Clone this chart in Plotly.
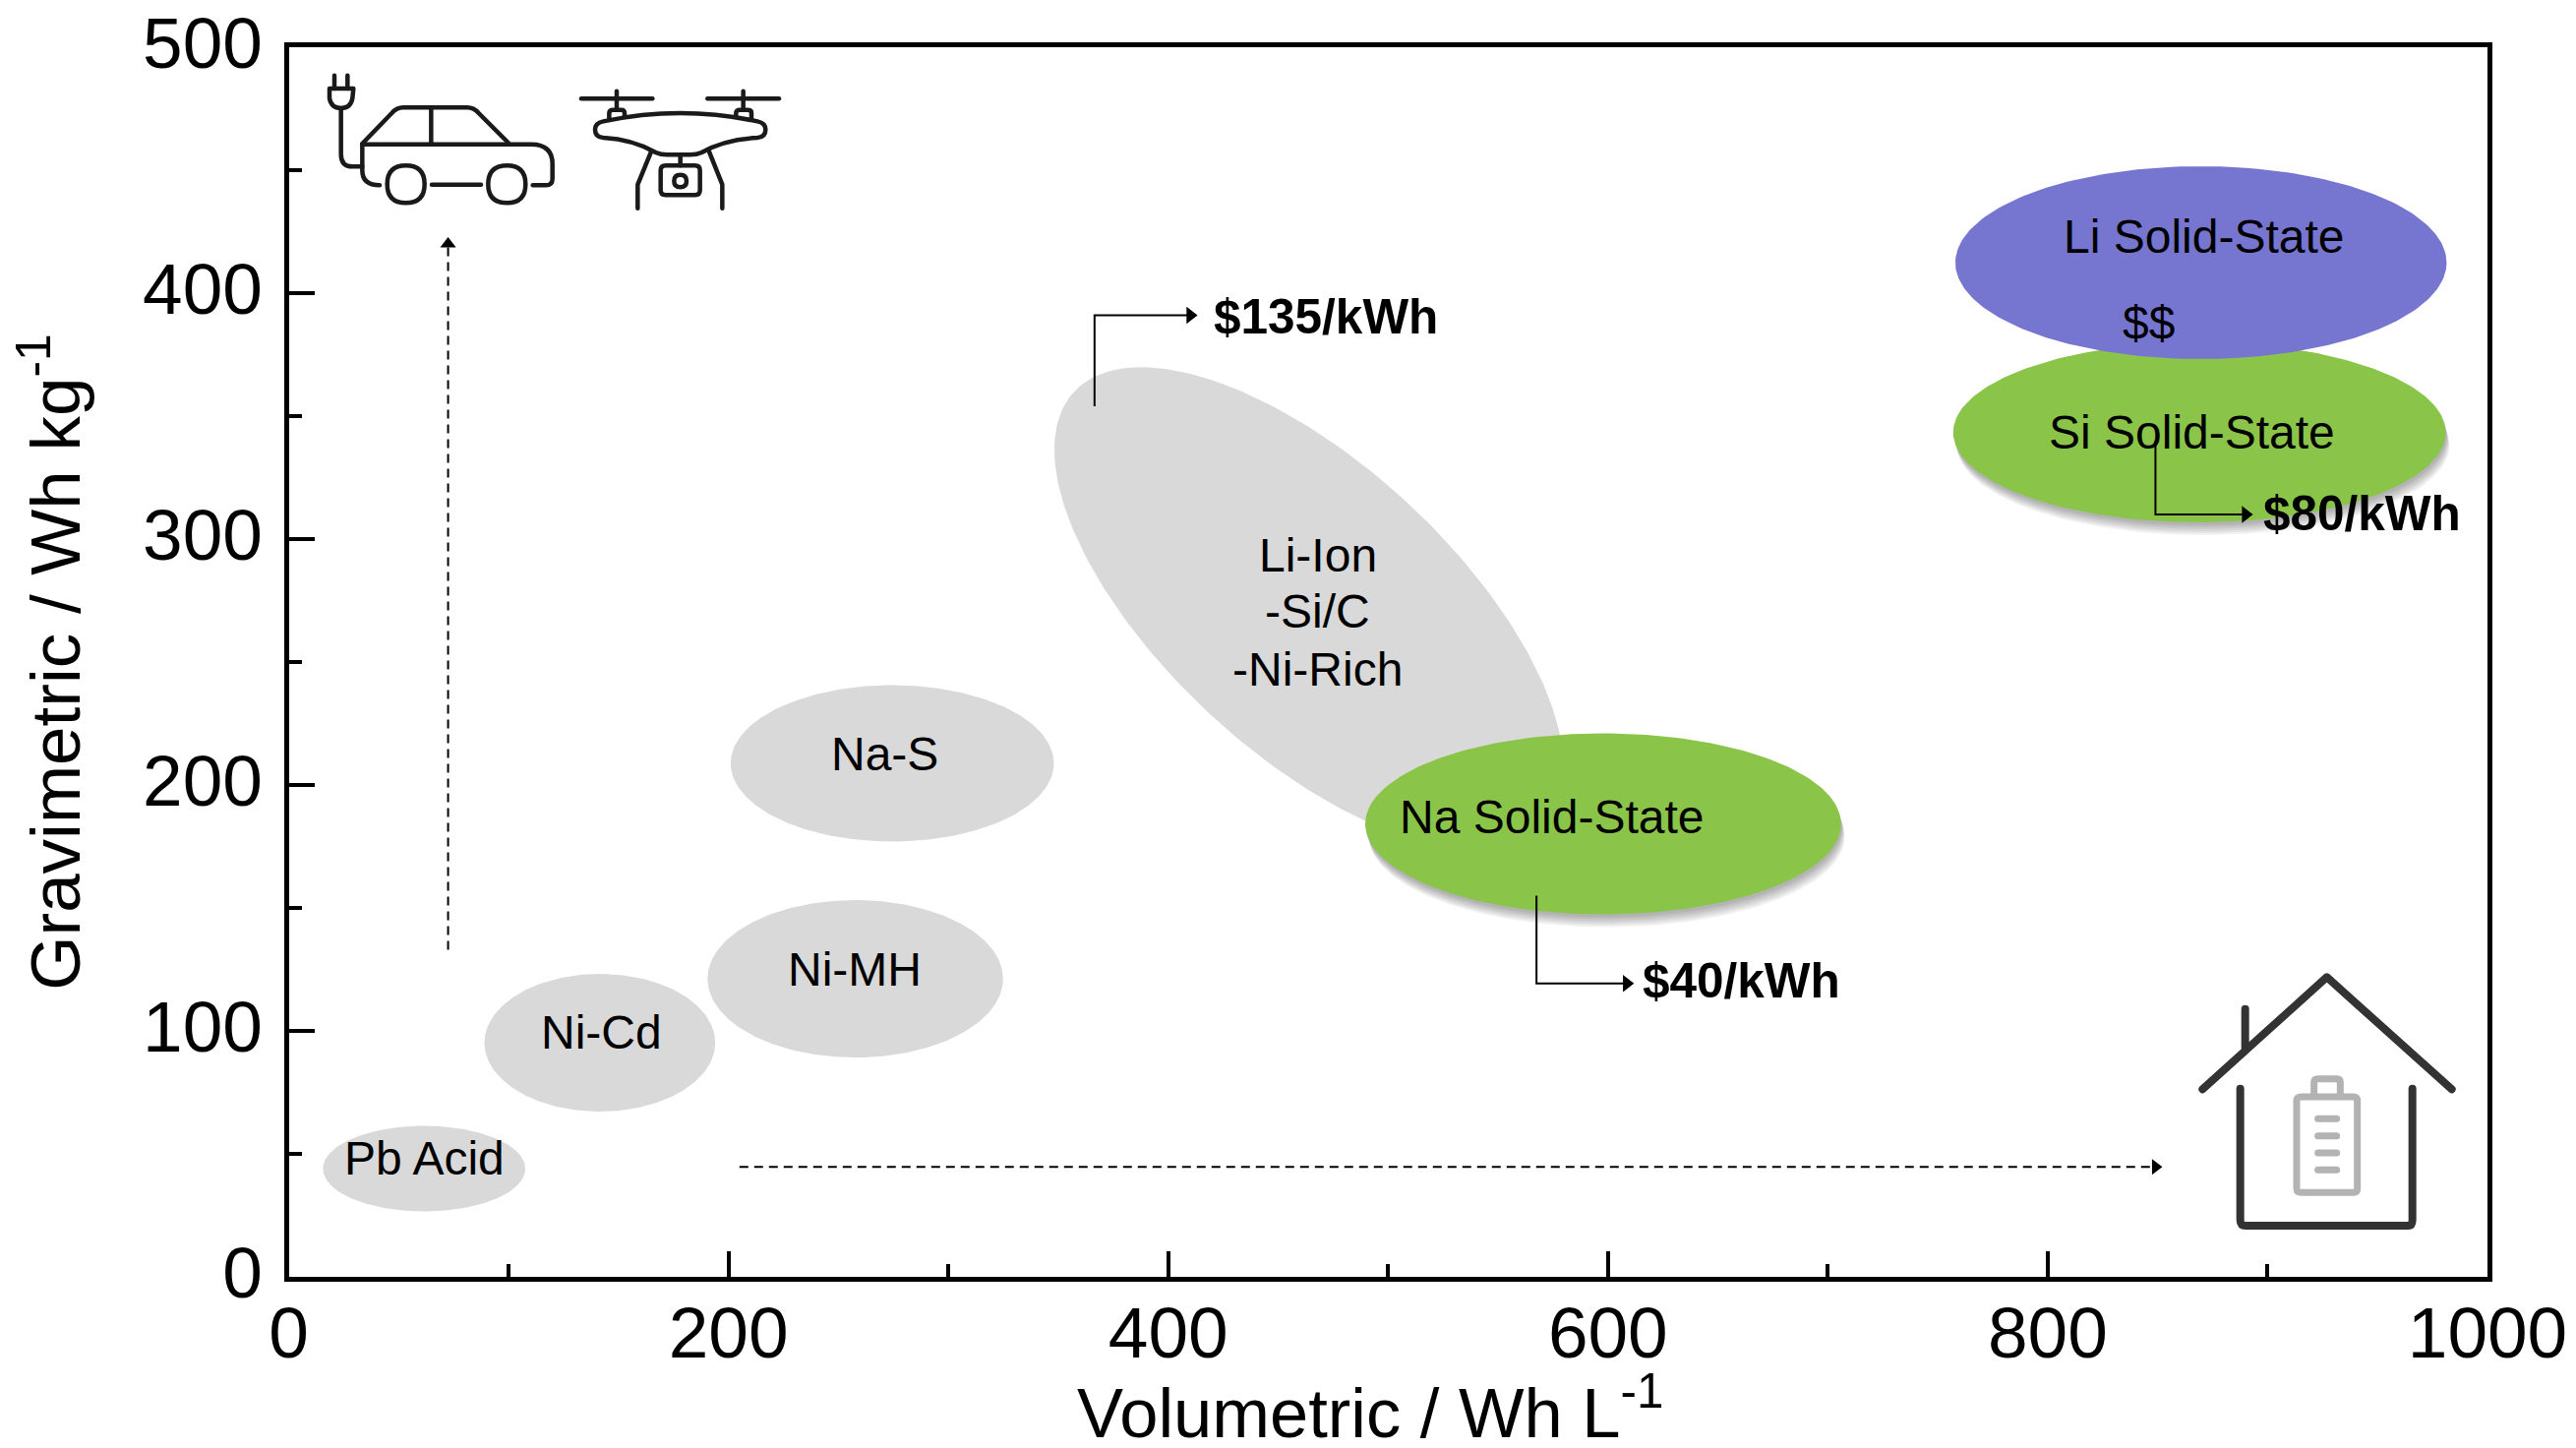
import re
import numpy as np
import plotly.graph_objects as go

W, H = 2619, 1472
AX_L, AX_R, AX_T, AX_B = 293.5, 2529, 48, 1298
X_MAX, Y_MAX = 1000, 500
PX_X = (AX_R - AX_L) / X_MAX
PX_Y = (AX_B - AX_T) / Y_MAX

x_ticks = [0, 200, 400, 600, 800, 1000]
y_ticks = [0, 100, 200, 300, 400, 500]

# ellipses: centre and semi-axes in data units
grey_names = ["Pb Acid", "Ni-Cd", "Ni-MH", "Na-S"]
grey_cx = [61.6, 141.5, 257.7, 274.5]
grey_cy = [44.0, 95.2, 121.2, 208.8]
grey_rx = [46.0, 52.5, 67.2, 73.5]
grey_ry = [17.4, 28.0, 32.0, 31.8]

liion_c = (464, 271.7)
liion_semi_px = (325, 147)
liion_tilt_deg = 42.7

solid_names = ["Si Solid-State", "Li Solid-State", "Na Solid-State"]
solid_cx = [869.0, 869.7, 597.8]
solid_cy = [343.4, 412.4, 184.2]
solid_rx = [112.0, 111.7, 108.2]
solid_ry = [36.6, 39.2, 36.8]
solid_col = ["#8AC549", "#7676D1", "#8AC549"]
solid_shadow = [True, False, True]

labels = ["Pb Acid", "Ni-Cd", "Ni-MH", "Na-S", "Li-Ion", "-Si/C", "-Ni-Rich",
          "Na Solid-State", "Si Solid-State", "Li Solid-State", "$$"]
label_x = [61.7, 142.3, 257.3, 271, 468, 468, 468, 574.7, 865.5, 871, 846]
label_y = [48.1, 99.6, 125, 212.7, 293.5, 270.6, 247.2, 187, 343.5, 423, 388]

prices = ["$135/kWh", "$80/kWh", "$40/kWh"]
price_x = [471.6, 943, 660.7]
price_y = [390.5, 310.8, 120.8]

elbow_x = [[366.5, 366.5, 410], [849, 849, 890], [567.5, 567.5, 608.5]]
elbow_y = [[354, 391, 391], [340, 310, 310], [155, 119.3, 119.3]]
dash_x = [[72.5, 72.5], [205, 849]]
dash_y = [[133, 420], [44.7, 44.7]]

fig = go.Figure()

t = np.linspace(0, 2 * np.pi, 241)


def blob(cx, cy, rx, ry, color):
    fig.add_trace(go.Scatter(
        x=cx + rx * np.cos(t), y=cy + ry * np.sin(t), mode="lines",
        fill="toself", fillcolor=color, line=dict(width=0),
        hoverinfo="skip", showlegend=False))


for i in range(len(grey_names)):
    blob(grey_cx[i], grey_cy[i], grey_rx[i], grey_ry[i], "#D9D9D9")

phi = np.radians(liion_tilt_deg)
a, b = liion_semi_px
fig.add_trace(go.Scatter(
    x=liion_c[0] + (a * np.cos(t) * np.cos(phi) - b * np.sin(t) * np.sin(phi)) / PX_X,
    y=liion_c[1] - (a * np.cos(t) * np.sin(phi) + b * np.sin(t) * np.cos(phi)) / PX_Y,
    mode="lines", fill="toself", fillcolor="#D9D9D9", line=dict(width=0),
    hoverinfo="skip", showlegend=False))

for i in range(len(solid_names)):
    if solid_shadow[i]:
        for off in (13, 11, 9, 7, 5, 3):
            blob(solid_cx[i] + off * 0.3 / PX_X, solid_cy[i] - off / PX_Y,
                 solid_rx[i], solid_ry[i], "rgba(0,0,0,0.055)")
    blob(solid_cx[i], solid_cy[i], solid_rx[i], solid_ry[i], solid_col[i])

for xs, ys in zip(elbow_x, elbow_y):
    fig.add_trace(go.Scatter(x=xs, y=ys, mode="lines", line=dict(color="black", width=2),
                             hoverinfo="skip", showlegend=False))
    fig.add_trace(go.Scatter(x=xs[-1:], y=ys[-1:], mode="markers",
                             marker=dict(symbol="triangle-right", size=15, color="black", line=dict(width=0)),
                             hoverinfo="skip", showlegend=False))
for k, (xs, ys) in enumerate(zip(dash_x, dash_y)):
    fig.add_trace(go.Scatter(x=xs, y=ys, mode="lines",
                             line=dict(color="black", width=2, dash="9px,6px"),
                             hoverinfo="skip", showlegend=False))
    fig.add_trace(go.Scatter(x=xs[-1:], y=ys[-1:], mode="markers",
                             marker=dict(symbol="triangle-up" if k == 0 else "triangle-right",
                                         size=14, color="black", line=dict(width=0)),
                             hoverinfo="skip", showlegend=False))

annotations = []
for s, x, y in zip(labels, label_x, label_y):
    annotations.append(dict(text=s, x=x, y=y, xref="x", yref="y", showarrow=False,
                            font=dict(family="Liberation Sans", size=48, color="black")))
for s, x, y in zip(prices, price_x, price_y):
    annotations.append(dict(text="<b>%s</b>" % s, x=x, y=y, xref="x", yref="y", showarrow=False,
                            font=dict(family="Liberation Sans", size=49.5, color="black")))


# icon outlines are given in zoom-crop units and placed on the page
def to_paper(path, ox, oy, k=3.0):
    nums = re.split(r"([MLQCZ ,])", path)
    out, is_x = [], True
    for tok in nums:
        if tok in ("M", "L", "Q", "C", "Z", " ", ",", ""):
            out.append(tok)
            continue
        v = float(tok)
        if is_x:
            out.append("%.5f" % ((ox + v / k) / W))
        else:
            out.append("%.5f" % (1 - (oy + v / k) / H))
        is_x = not is_x
    return "".join(out)


def circle(cx, cy, r):
    return ("M%g,%g Q%g,%g %g,%g Q%g,%g %g,%g Q%g,%g %g,%g Q%g,%g %g,%g Z" % (
        cx - r, cy,
        cx - r, cy - r, cx, cy - r,
        cx + r, cy - r, cx + r, cy,
        cx + r, cy + r, cx, cy + r,
        cx - r, cy + r, cx - r, cy))


car = [
    "M120,110 L120,150", "M160,110 L160,150",
    "M105,150 L178,150 L175,180 Q170,210 140,210 Q110,210 105,180 Z",
    "M140,210 L140,350 Q140,388 175,388 L205,388",
    "M205,320 L720,320 Q785,320 785,380 L785,425 Q785,445 765,445 L725,445",
    "M205,320 L205,400 Q205,445 258,445", "M417,443 L567,443",
    "M205,318 L295,225 Q310,208 330,208 L525,208 Q545,208 560,225 L650,315",
    "M415,208 L415,320",
    "M873,181 L1090,181", "M1258,181 L1476,181", "M981,158 L981,215", "M1367,158 L1367,215",
    "M958,240 L958,225 Q958,215 970,215 L995,215 Q1005,215 1005,225 L1005,235",
    "M1345,235 L1345,225 Q1345,215 1357,215 L1380,215 Q1392,215 1392,225 L1392,240",
    "M940,250 Q1175,200 1410,250 Q1435,255 1435,275 Q1435,298 1410,300 Q1310,305 1240,345 "
    "Q1225,352 1205,352 L1135,352 Q1115,352 1100,345 Q1030,305 940,300 Q915,298 915,275 Q915,255 940,250 Z",
    "M1087,340 L1045,443 L1045,515", "M1262,340 L1303,443 L1303,515", "M1175,352 L1175,385",
    "M1130,385 L1220,385 Q1235,385 1235,400 L1235,460 Q1235,475 1220,475 L1130,475 "
    "Q1115,475 1115,460 L1115,400 Q1115,385 1130,385 Z",
    circle(338, 442, 57), circle(646, 442, 57), circle(1175, 432, 19),
]
house = [
    "M118,442 L497,100 L878,442", "M248,197 L248,315",
    "M233,440 L233,840 Q233,858 250,858 L745,858 Q758,858 758,840 L758,440",
]
battery = [
    "M420,465 L578,465 Q590,465 590,477 L590,745 Q590,757 578,757 L420,757 Q405,757 405,745 L405,477 Q405,465 420,465 Z",
    "M458,460 L458,420 Q458,410 470,410 L528,410 Q538,410 538,420 L538,460",
]
bars = ["M470,532 L527,532", "M470,584 L527,584", "M470,636 L527,636", "M470,688 L527,688"]


def add(paths, ox, oy, color, width):
    return [dict(type="path", xref="paper", yref="paper", path=to_paper(p, ox, oy),
                 line=dict(color=color, width=width)) for p in paths]


shapes = (add(car, 300, 40, "#1A1A1A", 4.5) + add(house, 2200, 960, "#333333", 8)
          + add(battery, 2200, 960, "#B3B3B3", 7) + add(bars, 2200, 960, "#B3B3B3", 7))

tickfont = dict(family="Liberation Sans", size=73, color="black")
axis_common = dict(showgrid=False, zeroline=False, showline=True, linecolor="black", linewidth=5,
                   mirror=True, ticks="inside", ticklen=26, tickwidth=4, tickcolor="black",
                   tickfont=tickfont, automargin=False)

fig.update_layout(
    width=W, height=H, autosize=False,
    margin=dict(l=0, r=0, t=0, b=0),
    paper_bgcolor="white", plot_bgcolor="white", showlegend=False,
    xaxis=dict(domain=[AX_L / W, AX_R / W], range=[0, X_MAX], tickvals=x_ticks, ticklabelstandoff=-11,
               minor=dict(dtick=100, tick0=0, ticks="inside", ticklen=13, tickwidth=4, tickcolor="black", showgrid=False),
               title=dict(text="Volumetric / Wh L<sup>-1</sup>", standoff=18,
                          font=dict(family="Liberation Sans", size=70.5, color="black")),
               **axis_common),
    yaxis=dict(domain=[1 - AX_B / H, 1 - AX_T / H], range=[0, Y_MAX], tickvals=y_ticks, ticklabelstandoff=7,
               minor=dict(dtick=50, tick0=0, ticks="inside", ticklen=13, tickwidth=4, tickcolor="black", showgrid=False),
               title=dict(text="Gravimetric / Wh kg<sup>-1</sup>", standoff=42,
                          font=dict(family="Liberation Sans", size=71, color="black")),
               **axis_common),
    annotations=annotations, shapes=shapes,
)

page_fix = """
document.body.style.margin = '0';
document.documentElement.style.overflow = 'hidden';
document.querySelectorAll('.ytick text').forEach(function (el) {
  el.setAttribute('y', parseFloat(el.getAttribute('y') || 0) - 5);
});
document.querySelectorAll('.shapelayer path').forEach(function (el) {
  el.style.strokeLinecap = 'round';
  el.style.strokeLinejoin = 'round';
});
document.querySelectorAll('text.xtitle').forEach(function (el) {
  el.setAttribute('transform', 'translate(-18,4)');
});
"""
fig.write_html("out.html", config=dict(displayModeBar=False), post_script=page_fix)
